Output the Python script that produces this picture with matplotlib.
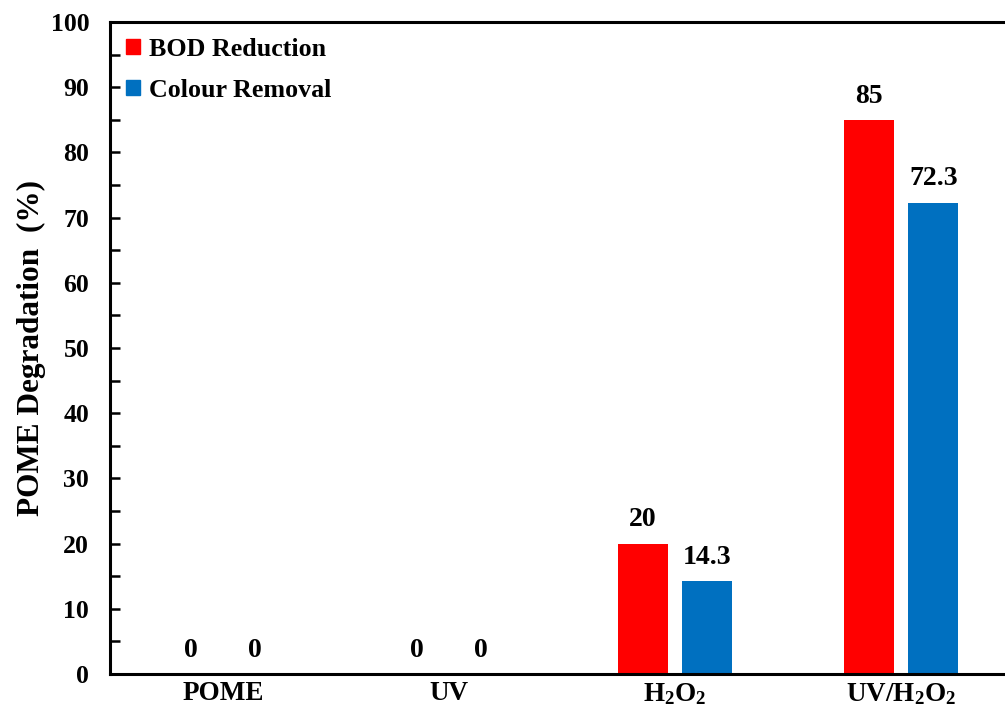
import numpy as np
import matplotlib
matplotlib.use('Agg')
import matplotlib.pyplot as plt
from matplotlib.ticker import MultipleLocator
from matplotlib.patches import Patch

categories = ['POME', 'UV', r'H$_2$O$_2$', r'UV/H$_2$O$_2$']
bod = [0, 0, 20, 85]
colour = [0, 0, 14.3, 72.3]
bod_labels = ['0', '0', '20', '85']
colour_labels = ['0', '0', '14.3', '72.3']

plt.rcParams['font.family'] = ['Liberation Serif', 'DejaVu Serif']
plt.rcParams['font.weight'] = 'bold'
plt.rcParams['mathtext.default'] = 'regular'

fig = plt.figure(figsize=(10.05, 7.06), dpi=100)
ax = fig.add_axes([110 / 1005, 32 / 706, 1 - 110 / 1005, (674 - 22) / 706])

x = np.arange(len(categories))
w = 0.22
red = '#FF0000'
blue = '#0070C0'
b1 = ax.bar(x - 0.143, bod, w, color=red)
b2 = ax.bar(x + 0.143, colour, w, color=blue)

# value labels above bars
for bars, labs in ((b1, bod_labels), (b2, colour_labels)):
    for r, t in zip(bars, labs):
        ax.annotate(t, (r.get_x() + r.get_width() / 2, r.get_height()),
                    xytext=(0, 8), textcoords='offset points',
                    ha='center', va='bottom', fontsize=20, fontweight='bold')

ax.set_xlim(-0.5, -0.5 + 895 / 226)
ax.set_ylim(0, 100)
ax.yaxis.set_major_locator(MultipleLocator(10))
ax.yaxis.set_minor_locator(MultipleLocator(5))
ax.tick_params(axis='y', which='both', direction='in', width=1.8, length=7,
               labelsize=18.5, pad=15)
ax.set_xticks(x)
ax.set_xticklabels(categories, fontsize=19.5, fontweight='bold')
ax.tick_params(axis='x', length=0, pad=5)

for s in ax.spines.values():
    s.set_linewidth(2.2)
ax.spines['right'].set_visible(False)

ax.set_ylabel('POME Degradation  (%)', fontsize=22.5, fontweight='bold', labelpad=3)

handles = [Patch(color=red, label='BOD Reduction'), Patch(color=blue, label='Colour Removal')]
ax.legend(handles=handles, loc='upper left', frameon=False, fontsize=18.7,
          handlelength=0.55, handleheight=0.55, handletextpad=0.35,
          borderaxespad=0.2, labelspacing=0.7)

fig.savefig('out.png', dpi=100)
